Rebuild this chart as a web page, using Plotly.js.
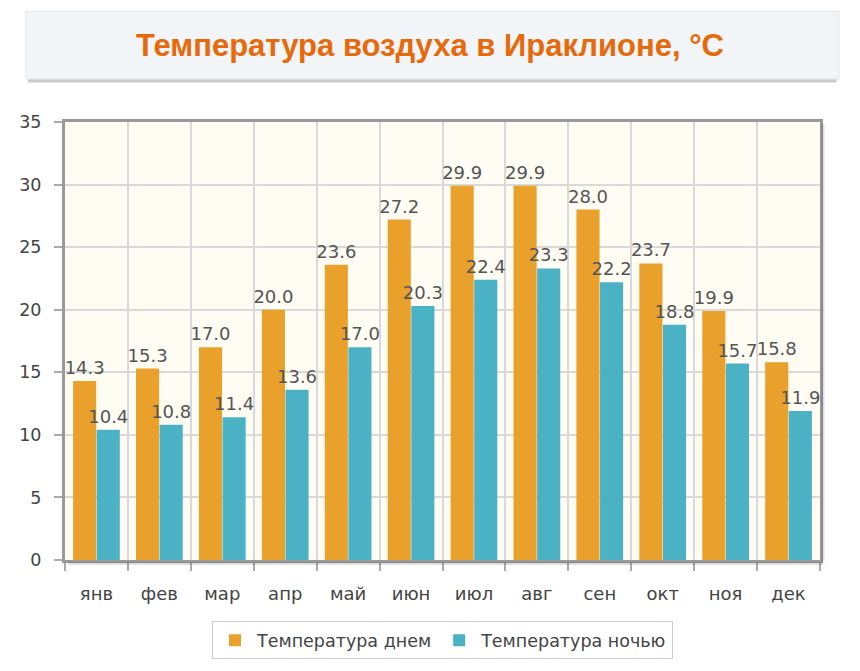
<!DOCTYPE html>
<html><head><meta charset="utf-8">
<script src="https://cdn.plot.ly/plotly-3.0.1.min.js"></script>
<style>html,body{margin:0;padding:0;background:#fff}#chart{width:860px;height:671px}</style>
</head><body><div id="chart"></div>
<script>
const months = ['янв','фев','мар','апр','май','июн','июл','авг','сен','окт','ноя','дек'];
const dayTemp = [14.3,15.3,17.0,20.0,23.6,27.2,29.9,29.9,28.0,23.7,19.9,15.8];
const nightTemp = [10.4,10.8,11.4,13.6,17.0,20.3,22.4,23.3,22.2,18.8,15.7,11.9];
const seriesNames = ['Температура днем','Температура ночью'];
const yTicks = [0,5,10,15,20,25,30,35];

const labelFont = {family:'DejaVu Sans, Verdana, sans-serif', size:18, color:'#555'};
const traces = [
  {type:'bar', x:months, y:dayTemp, name:seriesNames[0], marker:{color:'#E9A12B', line:{width:0}},
   text:dayTemp.map(v=>v.toFixed(1)), textposition:'outside', constraintext:'none', textfont:labelFont, cliponaxis:false, hoverinfo:'x+y'},
  {type:'bar', x:months, y:nightTemp, name:seriesNames[1], marker:{color:'#4BB2C5', line:{width:0}},
   text:nightTemp.map(v=>v.toFixed(1)), textposition:'outside', constraintext:'none', textfont:labelFont, cliponaxis:false, hoverinfo:'x+y'}
];
const layout = {
  width:860, height:671,
  margin:{l:65, r:40, t:122, b:111},
  paper_bgcolor:'#ffffff', plot_bgcolor:'#FFFCF4',
  barmode:'group', bargap:0.25, bargroupgap:0.02,
  showlegend:true,
  font:{family:'DejaVu Sans, Verdana, sans-serif', color:'#444'},
  title:{text:'Температура воздуха в Ираклионе, °C', x:0.5, xanchor:'center', y:0.932, yanchor:'middle',
         font:{family:'Liberation Sans, Arial, sans-serif', size:31, color:'#E8690A', weight:'bold'}},
  xaxis:{type:'category', tickson:'boundaries', showgrid:true, gridcolor:'#d9d9d9', gridwidth:2,
         ticks:'outside', ticklen:8, tickwidth:2, tickcolor:'#aaa', ticklabelstandoff:15,
         showline:true, linecolor:'#999', linewidth:3, mirror:true,
         tickfont:{family:'DejaVu Sans, Verdana, sans-serif', size:18, color:'#444'}, automargin:false},
  yaxis:{range:[0,35], tickvals:yTicks, showgrid:true, gridcolor:'#d9d9d9', gridwidth:2, zeroline:false,
         ticks:'outside', ticklen:8, tickwidth:2, tickcolor:'#aaa', ticklabelstandoff:9,
         showline:true, linecolor:'#999', linewidth:3, mirror:true,
         tickfont:{family:'DejaVu Sans, Verdana, sans-serif', size:17.5, color:'#444'}, automargin:false},
  legend:{orientation:'h', x:0.5, xanchor:'center', y:-0.14, yanchor:'top',
          bordercolor:'#ccc', borderwidth:1, bgcolor:'#fff',
          font:{family:'DejaVu Sans, Verdana, sans-serif', size:17.5, color:'#444'}, itemwidth:34},
  shapes:[
    {type:'path', xref:'paper', yref:'paper', layer:'below',
     path:'M -0.049 1.09 L 1.022 1.09 L 1.022 1.2445 L -0.049 1.2445 Z', fillcolor:'#c8cacc', line:{width:0}},
    {type:'path', xref:'paper', yref:'paper', layer:'below',
     path:'M -0.052 1.098 L 1.025 1.098 L 1.025 1.2525 L -0.052 1.2525 Z', fillcolor:'#F2F5F8', line:{color:'#e2e5e8', width:1}},
    {type:'line', xref:'paper', yref:'paper', x0:1.004, x1:1.004, y0:-0.004, y1:0.996, line:{color:'rgba(0,0,0,0.12)', width:3}},
    {type:'line', xref:'paper', yref:'paper', x0:0.004, x1:1.004, y0:-0.008, y1:-0.008, line:{color:'rgba(0,0,0,0.12)', width:3}}
  ]
};
Plotly.newPlot('chart', traces, layout, {displayModeBar:false, staticPlot:true});
</script></body></html>
